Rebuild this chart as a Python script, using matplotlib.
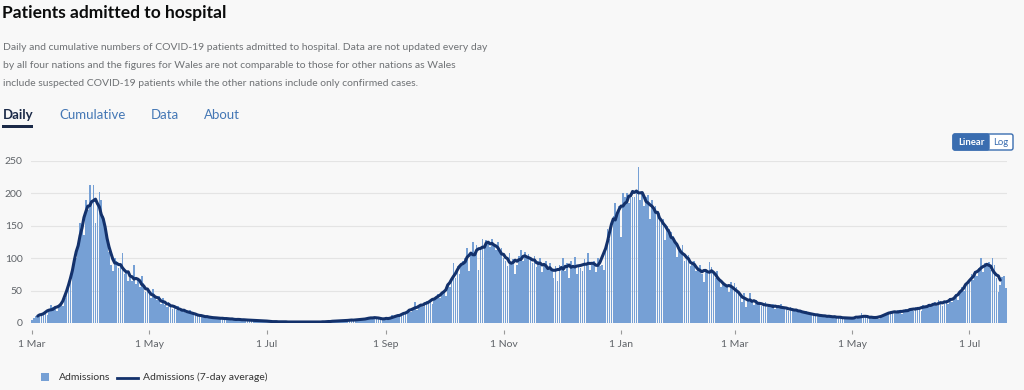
import matplotlib
matplotlib.use("Agg")
import matplotlib.pyplot as plt
import pandas as pd
from matplotlib.patches import Rectangle, FancyBboxPatch
from matplotlib.lines import Line2D

plt.rcParams['font.family'] = ['Lato', 'DejaVu Sans']

# ---------------- data (daily admissions) ----------------
start_date = "2020-03-01"
mar_2020 = [5, 8, 11, 12, 10, 14, 15, 18, 12, 20, 28, 25, 22, 18, 24, 30, 26, 38, 45, 55,
            72, 80, 95, 100, 120, 155, 150, 136, 190, 175, 213]
apr_2020 = [185, 213, 155, 180, 202, 190, 165, 150, 130, 110, 90, 80, 100, 95, 85, 88, 108, 75, 80, 65,
            70, 65, 90, 60, 70, 55, 72, 62, 48, 50]
may_2020 = [45, 38, 52, 40, 35, 42, 30, 38, 28, 25, 33, 30, 22, 28, 20, 26, 18, 22, 19, 15,
            18, 20, 14, 12, 15, 13, 10, 12, 11, 9, 10]
jun_2020 = [9, 8, 10, 7, 8, 6, 9, 7, 6, 8, 7, 5, 6, 7, 5, 6, 4, 5, 6, 5,
            4, 5, 4, 3, 4, 5, 3, 4, 3, 4]
jul_2020 = [3, 2, 3, 2, 2, 1, 2, 3, 2, 1, 2, 2, 1, 2, 1, 2, 2, 1, 1, 2,
            1, 2, 2, 1, 2, 1, 2, 1, 2, 2, 1]
aug_2020 = [2, 3, 2, 3, 3, 2, 4, 3, 4, 3, 5, 4, 3, 5, 4, 6, 5, 4, 6, 5,
            7, 6, 8, 7, 9, 10, 8, 7, 9, 6, 5]
sep_2020 = [4, 6, 8, 12, 7, 10, 12, 11, 13, 15, 14, 18, 20, 17, 22, 33, 20, 24, 28, 25,
            30, 34, 32, 36, 30, 38, 40, 45, 38, 48]
oct_2020 = [50, 42, 60, 55, 65, 92, 70, 88, 75, 90, 95, 100, 115, 80, 105, 125, 110, 120, 82, 115,
            130, 120, 128, 125, 118, 130, 122, 112, 125, 110, 115]
nov_2020 = [100, 95, 88, 108, 92, 98, 75, 90, 104, 112, 96, 110, 100, 106, 98, 92, 104, 86, 95, 100,
            78, 88, 96, 84, 92, 80, 70, 88, 65, 90]
dec_2020 = [85, 100, 80, 92, 70, 95, 88, 102, 75, 90, 85, 80, 98, 92, 108, 82, 90, 95, 78, 100,
            88, 90, 82, 120, 145, 130, 150, 165, 185, 170, 180]
jan_2021 = [133, 200, 195, 200, 185, 200, 195, 195, 205, 241, 190, 200, 180, 195, 198, 160, 190, 175, 180, 165,
            170, 155, 160, 128, 150, 145, 140, 135, 125, 102, 118]
feb_2021 = [110, 120, 95, 100, 105, 88, 92, 95, 80, 85, 90, 75, 63, 82, 78, 94, 86, 75, 70, 80,
            65, 56, 62, 60, 58, 48, 63, 52]
mar_2021 = [62, 55, 45, 40, 32, 46, 25, 36, 46, 34, 28, 35, 30, 32, 26, 28, 33, 24, 27, 25,
            29, 22, 26, 24, 30, 21, 25, 22, 19, 24, 20]
apr_2021 = [22, 18, 20, 17, 19, 15, 18, 14, 13, 16, 12, 14, 11, 13, 10, 12, 11, 9, 12, 10,
            8, 11, 9, 8, 10, 7, 9, 8, 6, 8]
may_2021 = [7, 8, 6, 9, 10, 15, 8, 9, 11, 10, 9, 8, 7, 9, 6, 10, 12, 14, 13, 16,
            18, 15, 19, 17, 20, 16, 14, 18, 21, 19, 22]
jun_2021 = [22, 18, 25, 21, 24, 19, 28, 23, 26, 30, 24, 28, 32, 26, 35, 30, 27, 34, 36, 29,
            38, 33, 40, 44, 36, 48, 55, 50, 62, 58]
jul_2021 = [68, 75, 66, 80, 72, 85, 100, 78, 92, 88, 94, 82, 100, 90, 70, 48, 58, 71, 72, 54]

tick_dates = ["2020-03-01", "2020-05-01", "2020-07-01", "2020-09-01", "2020-11-01",
              "2021-01-01", "2021-03-01", "2021-05-01", "2021-07-01"]
tick_labels = ["1 Mar", "1 May", "1 Jul", "1 Sep", "1 Nov", "1 Jan", "1 Mar", "1 May", "1 Jul"]
y_ticks = [0, 50, 100, 150, 200, 250]
series_names = ["Admissions", "Admissions (7-day average)"]

admissions = (mar_2020 + apr_2020 + may_2020 + jun_2020 + jul_2020 + aug_2020 + sep_2020 +
              oct_2020 + nov_2020 + dec_2020 + jan_2021 + feb_2021 + mar_2021 + apr_2021 +
              may_2021 + jun_2021 + jul_2021)
dates = pd.date_range(start_date, periods=len(admissions), freq="D")
avg7 = pd.Series(admissions, index=dates).rolling(7, center=True).mean()

# ---------------- styling ----------------
BG = "#f8f8f8"
BAR = "#76a0d5"
LINE = "#13316b"
GREY = "#5f6368"
BLUE = "#4477b5"
DARK = "#1b2a48"

W, H = 1024, 390
fig = plt.figure(figsize=(W / 100, H / 100), dpi=100)
fig.patch.set_facecolor(BG)

ax = fig.add_axes([31 / W, 67 / H, 976 / W, 162 / H])
ax.set_facecolor(BG)
ax.bar(dates, admissions, width=0.85, color=BAR, align="center", zorder=2, linewidth=0)
ax.plot(dates, avg7, color=LINE, lw=2.2, zorder=3, solid_capstyle="round")
ax.set_ylim(0, 250)
ax.set_xlim(dates[0] - pd.Timedelta(hours=12), dates[-1] + pd.Timedelta(hours=12))
ax.set_yticks(y_ticks)
ax.yaxis.grid(True, color="#e4e4e4", lw=0.8, zorder=0)
ax.set_axisbelow(True)
for s in ax.spines.values():
    s.set_visible(False)
ax.spines['bottom'].set_position(('outward', 5))
ax.set_xticks(pd.to_datetime(tick_dates))
ax.set_xticklabels(tick_labels)
ax.tick_params(axis='x', length=3, width=0.8, color='#9a9a9a', pad=4, labelsize=7.5, labelcolor=GREY)
ax.tick_params(axis='y', length=0, pad=6, labelsize=7.5, labelcolor=GREY)

# overlay in pixel coordinates for page elements
ov = fig.add_axes([0, 0, 1, 1], facecolor='none')
ov.set_xlim(0, W)
ov.set_ylim(H, 0)
ov.axis('off')

ov.text(2, 13, "Patients admitted to hospital", fontsize=12.5, fontweight='bold',
        color='#0b0c0c', va='center', ha='left')
desc = ["Daily and cumulative numbers of COVID-19 patients admitted to hospital. Data are not updated every day",
        "by all four nations and the figures for Wales are not comparable to those for other nations as Wales",
        "include suspected COVID-19 patients while the other nations include only confirmed cases."]
for i, line in enumerate(desc):
    ov.text(3, 47 + 18.5 * i, line, fontsize=7.45, color='#6f7275', va='center', ha='left')

ov.text(3, 115, "Daily", fontsize=9.5, fontweight='bold', color=DARK, va='center', ha='left')
ov.add_patch(Rectangle((2, 124.5), 31, 3, color=DARK, lw=0))
for label, x in [("Cumulative", 59), ("Data", 151), ("About", 204)]:
    ov.text(x, 115, label, fontsize=9.5, color=BLUE, va='center', ha='left')

# Linear / Log toggle
ov.add_patch(FancyBboxPatch((953, 134), 60, 16, boxstyle="round,pad=0,rounding_size=2",
                            facecolor='white', edgecolor='#3a6db0', lw=1))
ov.add_patch(FancyBboxPatch((953, 134), 36, 16, boxstyle="round,pad=0,rounding_size=2",
                            facecolor='#3a6db0', edgecolor='#3a6db0', lw=1))
ov.text(971, 142.5, "Linear", fontsize=6.8, fontweight='bold', color='white', ha='center', va='center')
ov.text(1001, 142.5, "Log", fontsize=6.8, color='#3a6db0', ha='center', va='center')

# legend
ov.add_patch(Rectangle((41, 373), 8, 8, color=BAR, lw=0))
ov.text(59, 377.5, series_names[0], fontsize=7.5, color='#333333', va='center', ha='left')
ov.add_line(Line2D([117, 138], [377.5, 377.5], color=LINE, lw=2))
ov.text(143, 377.5, series_names[1], fontsize=7.5, color='#333333', va='center', ha='left')

fig.savefig("out.png", dpi=100, facecolor=BG)
